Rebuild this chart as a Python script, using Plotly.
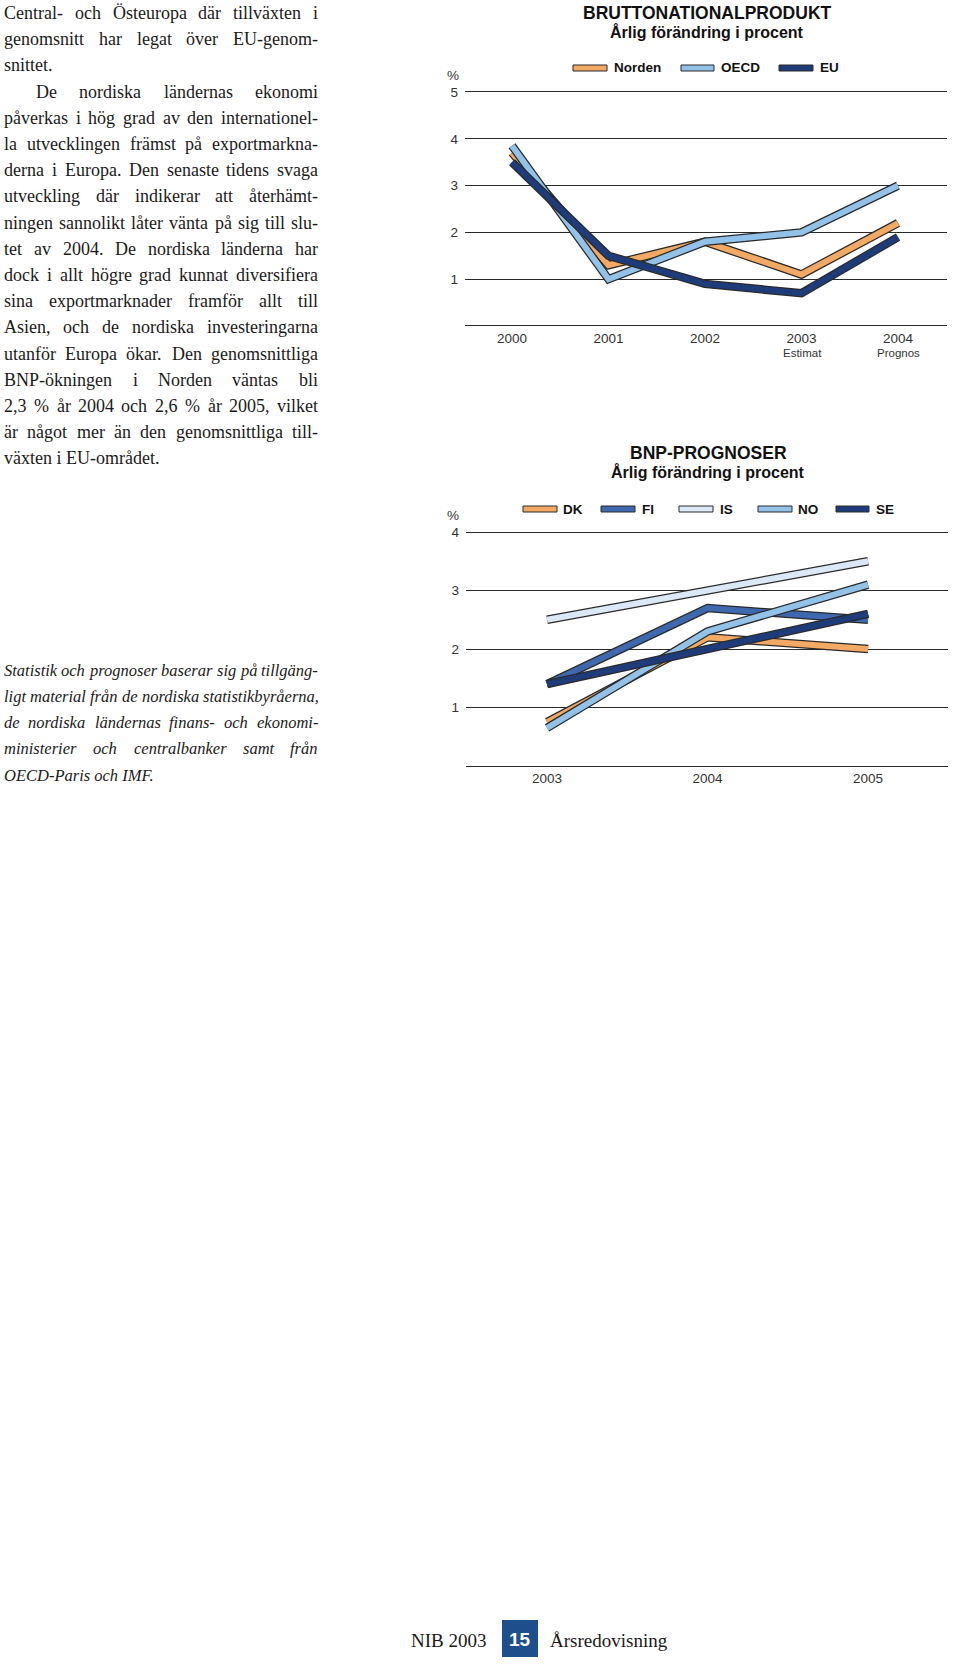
import plotly.graph_objects as go

# ---------------- data ----------------
years1 = ["2000", "2001", "2002", "2003", "2004"]
norden = [3.7, 1.3, 1.8, 1.1, 2.2]
oecd = [3.85, 1.0, 1.8, 2.0, 3.0]
eu = [3.5, 1.5, 0.9, 0.7, 1.9]
y1_ticks = [1, 2, 3, 4, 5]

years2 = ["2003", "2004", "2005"]
dk = [0.75, 2.2, 2.0]
fi = [1.4, 2.7, 2.5]
is_ = [2.5, 3.0, 3.5]
no = [0.65, 2.3, 3.1]
se = [1.4, 2.0, 2.6]
y2_ticks = [1, 2, 3, 4]

body_lines = [
    "Central- och Östeuropa där tillväxten i",
    "genomsnitt har legat över EU-genom-",
    "snittet.",
    "De nordiska ländernas ekonomi",
    "påverkas i hög grad av den internationel-",
    "la utvecklingen främst på exportmarkna-",
    "derna i Europa. Den senaste tidens svaga",
    "utveckling där indikerar att återhämt-",
    "ningen sannolikt låter vänta på sig till slu-",
    "tet av 2004. De nordiska länderna har",
    "dock i allt högre grad kunnat diversifiera",
    "sina exportmarknader framför allt till",
    "Asien, och de nordiska investeringarna",
    "utanför Europa ökar. Den genomsnittliga",
    "BNP-ökningen i Norden väntas bli",
    "2,3 % år 2004 och 2,6 % år 2005, vilket",
    "är något mer än den genomsnittliga till-",
    "växten i EU-området.",
]
body_last = {2, 17}      # paragraph-final lines (not justified)
body_indent = {3}

note_lines = [
    "Statistik och prognoser baserar sig på tillgäng-",
    "ligt material från de nordiska statistikbyråerna,",
    "de nordiska ländernas finans- och ekonomi-",
    "ministerier och centralbanker samt från",
    "OECD-Paris och IMF.",
]
note_last = {4}

# ---------------- helpers ----------------
W, H = 960, 1664
def px(x): return x / W
def py(y): return 1 - y / H

ORANGE = "#F2A964"
LBLUE = "#93C2E9"
DBLUE = "#1F3C7A"
MBLUE = "#3E69AE"
PBLUE = "#DCE8F5"
OUT = "#2a2a2a"

# Times (Liberation Serif) approximate advance widths, per 1000 em
roman = dict(zip("abcdefghijklmnopqrstuvwxyz",
                 [444,500,444,500,444,333,500,500,278,278,500,278,778,500,500,500,500,333,389,278,500,500,722,500,500,444]))
roman.update(dict(zip("ABCDEFGHIJKLMNOPQRSTUVWXYZ",
                      [722,667,667,722,611,556,722,722,333,389,722,611,889,722,722,556,722,667,556,611,722,722,944,722,722,611])))
italic = dict(zip("abcdefghijklmnopqrstuvwxyz",
                  [500,500,444,500,444,278,500,500,278,278,444,278,722,500,500,500,500,389,389,278,500,444,667,444,444,389]))
italic.update(dict(zip("ABCDEFGHIJKLMNOPQRSTUVWXYZ",
                       [611,611,667,722,611,611,722,722,333,444,667,556,833,667,722,611,722,611,500,556,722,611,833,611,556,556])))
for t in (roman, italic):
    for d in "0123456789":
        t[d] = 500
    t.update({" ": 250, ".": 250, ",": 250, "-": 333, "%": 833})
accent = {"ä": "a", "å": "a", "ö": "o", "Ö": "O", "Å": "A", "Ä": "A"}

def wlen(word, table, size):
    return sum(table.get(accent.get(c, c), 500) for c in word) * size / 1000.0

annotations = []
shapes = []

def place_text(lines, last, indent, y0, dy, size, table, style, left=4, right=318):
    for i, line in enumerate(lines):
        y = py(y0 + dy * i)
        x_start = left + (32 if i in indent else 0)
        font = dict(family="Liberation Serif", size=size, color="#1a1a1a", style=style)
        if i in last:
            annotations.append(dict(text=line, x=px(x_start - 2), y=y, xref="paper", yref="paper",
                                    xanchor="left", yanchor="middle", showarrow=False, font=font))
            continue
        words = line.split(" ")
        widths = [wlen(w, table, size) for w in words]
        gap = (right - x_start - sum(widths)) / max(len(words) - 1, 1)
        gap = max(gap, 0.25 * size)
        x = x_start
        for w, wd in zip(words, widths):
            annotations.append(dict(text=w, x=px(x - 2), y=y, xref="paper", yref="paper",
                                    xanchor="left", yanchor="middle", showarrow=False, font=font))
            x += wd + gap

place_text(body_lines, body_last, body_indent, 13, 26.2, 18, roman, "normal")
place_text(note_lines, note_last, set(), 670, 26.3, 16.5, italic, "italic")

# ---------------- figure ----------------
fig = go.Figure()

def add_series(xs, ys, color, xa, ya):
    fig.add_trace(go.Scatter(x=xs, y=ys, mode="lines", xaxis=xa, yaxis=ya,
                             line=dict(color=OUT, width=8.5), hoverinfo="skip", showlegend=False))
    fig.add_trace(go.Scatter(x=xs, y=ys, mode="lines", xaxis=xa, yaxis=ya,
                             line=dict(color=color, width=6), hoverinfo="skip", showlegend=False))

for ys, c in [(norden, ORANGE), (oecd, LBLUE), (eu, DBLUE)]:
    add_series(years1, ys, c, "x", "y")
for ys, c in [(dk, ORANGE), (fi, MBLUE), (is_, PBLUE), (no, LBLUE), (se, DBLUE)]:
    add_series(years2, ys, c, "x2", "y2")

tickfont = dict(family="Liberation Sans", size=13.5, color="#333")
axis_common = dict(showline=False, ticks="", tickfont=tickfont, fixedrange=True, automargin=False)

u1 = (326 - 92) / 5.0
u2 = (766 - 532) / 4.0
pad = 0.03

fig.update_layout(
    template="none",
    width=W, height=H, margin=dict(l=0, r=0, t=0, b=0, pad=0, autoexpand=False),
    paper_bgcolor="white", plot_bgcolor="white", showlegend=False,
    xaxis=dict(domain=[px(465), px(947)], anchor="y", type="category",
               range=[-0.487, 4.508], showgrid=False, zeroline=False,
               ticklabelstandoff=1, **axis_common),
    yaxis=dict(domain=[py(326 + pad * u1), py(92 - pad * u1)], anchor="x", range=[-pad, 5 + pad],
               tickvals=y1_ticks, showgrid=True, gridcolor=OUT, gridwidth=1.3,
               zeroline=True, zerolinecolor=OUT, zerolinewidth=1.3,
               ticklabelstandoff=6, **axis_common),
    xaxis2=dict(domain=[px(466), px(948)], anchor="y2", type="category",
                range=[-0.505, 2.498], showgrid=False, zeroline=False,
                ticklabelstandoff=1, **axis_common),
    yaxis2=dict(domain=[py(766 + pad * u2), py(532 - pad * u2)], anchor="x2", range=[-pad, 4 + pad],
                tickvals=y2_ticks, showgrid=True, gridcolor=OUT, gridwidth=1.3,
                zeroline=True, zerolinecolor=OUT, zerolinewidth=1.3,
                ticklabelstandoff=6, **axis_common),
)

def ann(text, x, y, size, bold=False, color="#111", xanchor="center", family="Liberation Sans", **kw):
    annotations.append(dict(text=f"<b>{text}</b>" if bold else text, x=px(x), y=py(y),
                            xref="paper", yref="paper", xanchor=xanchor, yanchor="middle",
                            showarrow=False, font=dict(family=family, size=size, color=color), **kw))

# titles
ann("BRUTTONATIONALPRODUKT", 707, 13, 17.5, bold=True)
ann("Årlig förändring i procent", 707, 32, 16, bold=True)
ann("BNP-PROGNOSER", 708, 453, 17.5, bold=True)
ann("Årlig förändring i procent", 708, 472, 16, bold=True)
ann("%", 453, 75, 13.5, color="#333")
ann("%", 453, 515, 13.5, color="#333")

# sub-labels under x ticks
ann("Estimat", 802, 353, 11.5, color="#333")
ann("Prognos", 898, 353, 11.5, color="#333")

# legends (drawn manually)
def legend_item(x0, x1, yc, color, label, lx):
    shapes.append(dict(type="rect", xref="paper", yref="paper", x0=px(x0), x1=px(x1),
                       y0=py(yc + 3), y1=py(yc - 3), fillcolor=color,
                       line=dict(color=OUT, width=1)))
    ann(label, lx, yc, 13.5, bold=True, xanchor="left")

legend_item(573, 607, 68, ORANGE, "Norden", 612)
legend_item(681, 714, 68, LBLUE, "OECD", 719)
legend_item(779, 813, 68, DBLUE, "EU", 818)

legend_item(523, 557, 509, ORANGE, "DK", 561)
legend_item(601, 635, 509, MBLUE, "FI", 640)
legend_item(679, 713, 509, PBLUE, "IS", 718)
legend_item(758, 792, 509, LBLUE, "NO", 796)
legend_item(836, 869, 509, DBLUE, "SE", 874)

# footer
ann("NIB 2003", 448, 1640, 19, family="Liberation Serif", color="#1a1a1a")
shapes.append(dict(type="rect", xref="paper", yref="paper", x0=px(502), x1=px(538),
                   y0=py(1657), y1=py(1620), fillcolor="#1F4E8C", line=dict(width=0)))
ann("15", 520, 1639, 19, bold=True, color="white")
ann("Årsredovisning", 548, 1640, 19, family="Liberation Serif", color="#1a1a1a", xanchor="left")

fig.update_layout(annotations=annotations, shapes=shapes)
fig.write_html("out.html")
